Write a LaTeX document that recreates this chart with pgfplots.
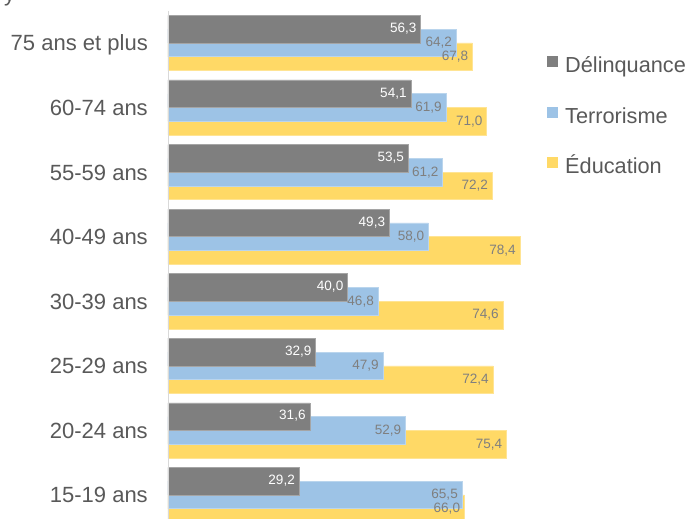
\documentclass[border=0pt]{standalone}
\usepackage{fontspec}
\setmainfont{Liberation Sans}
\usepackage{pgfplots}
\pgfplotsset{compat=1.18}
\definecolor{cdark}{HTML}{7F7F7F}
\definecolor{cblue}{HTML}{9DC3E6}
\definecolor{cyellow}{HTML}{FFD966}
\definecolor{ctext}{HTML}{595959}
\definecolor{clabel}{HTML}{7F7F7F}
\definecolor{caxis}{HTML}{D9D9D9}

\pgfplotstableread{
k del ter edu
0 29.2 65.5 66.0
1 31.6 52.9 75.4
2 32.9 47.9 72.4
3 40.0 46.8 74.6
4 49.3 58.0 78.4
5 53.5 61.2 72.2
6 54.1 61.9 71.0
7 56.3 64.2 67.8
}\datatable

\begin{document}
\begin{tikzpicture}
\useasboundingbox (-168bp,0) rectangle (520bp,519bp);
\clip (-168bp,0) rectangle (520bp,519bp);
\node[anchor=base west, inner sep=0pt, text=ctext, font=\fontsize{22}{26}\selectfont] at (-164bp,517bp) {y};
\begin{axis}[
  at={(0,0)}, anchor=south west,
  scale only axis, width=359.2bp, height=519bp,
  xbar,
  xmin=0, xmax=80, ymin=-0.372, ymax=7.666,
  axis line style={draw=none},
  xtick=\empty,
  ytick={0,...,7},
  yticklabels={15-19 ans,20-24 ans,25-29 ans,30-39 ans,40-49 ans,55-59 ans,60-74 ans,75 ans et plus},
  major tick length=0pt,
  yticklabel style={font=\fontsize{22.1}{26}\selectfont, text=ctext, anchor=base east, inner sep=0pt, xshift=-20bp, yshift=-7.9bp},
  bar width=27.6bp,
  nodes near coords,
  nodes near coords style={font=\fontsize{13.6}{16}\selectfont, anchor=east, xshift=-4bp, inner sep=0pt},
  /pgf/number format/.cd, fixed, fixed zerofill, precision=1, use comma, assume math mode=true,
  /pgfplots/.cd,
  clip=false,
  reverse legend,
  legend style={draw=none, fill=none, inner sep=0pt, at={(1.0551,0.892)}, anchor=north west,
    row sep=29bp, column sep=0pt,
    font=\fontsize{21.8}{26}\selectfont, text=ctext,
    nodes={inner sep=0pt, text height=16bp, text depth=5bp}},
  legend cell align=left,
  legend image code/.code={\fill[#1, draw=none] (0bp,0bp) rectangle (11bp,11bp); \path[draw=none, fill=none] (0,0) -- (18bp,0);},
]
\addplot[fill=cyellow, draw=cyellow!70!white, line width=0.6bp, bar shift=-13.8bp,
  nodes near coords style={text=clabel}] table[x=edu, y=k] {\datatable};
\addlegendentry{Éducation}
\addplot[fill=cblue, draw=cblue!70!white, line width=0.6bp, bar shift=0bp,
  nodes near coords style={text=clabel}] table[x=ter, y=k] {\datatable};
\addlegendentry{Terrorisme}
\addplot[fill=cdark, draw=cdark!70!white, line width=0.6bp, bar shift=13.8bp,
  nodes near coords style={text=white, yshift=0.5bp}] table[x=del, y=k] {\datatable};
\addlegendentry{Délinquance}
\draw[caxis, line width=0.75bp] (axis cs:0,7.496) -- (axis cs:0,-0.372);
\end{axis}
\end{tikzpicture}
\end{document}
